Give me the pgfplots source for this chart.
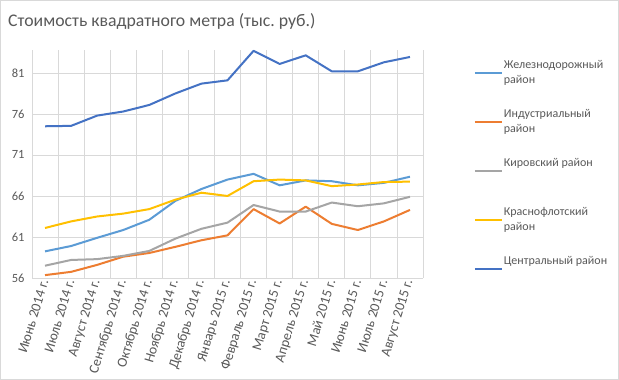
\documentclass[border=0pt]{standalone}
\usepackage{pgfplots}
\pgfplotsset{compat=1.18}
\usepackage{fontspec}
\setmainfont{Carlito}
\definecolor{txt}{HTML}{595959}
\definecolor{grd}{HTML}{D9D9D9}
\definecolor{sA}{HTML}{5B9BD5}
\definecolor{sB}{HTML}{ED7D31}
\definecolor{sC}{HTML}{A5A5A5}
\definecolor{sD}{HTML}{FFC000}
\definecolor{sE}{HTML}{4472C4}
\begin{document}
\begin{tikzpicture}[x=1pt,y=1pt]
\path[use as bounding box] (0,0) rectangle (619,380);
\draw[grd, fill=white, line width=1pt] (0.5,0.5) rectangle (618.5,379.5);
\node[anchor=base west, text=txt, font=\fontsize{17.75}{21}\selectfont, inner sep=0pt] at (8,353) {Стоимость квадратного метра (тыс.~руб.)};
\begin{axis}[
  at={(32pt,102pt)}, anchor=south west,
  scale only axis, width=391pt, height=228pt,
  xmin=-0.5, xmax=14.5, ymin=56, ymax=83.8,
  clip=false,
  axis line style={draw=none},
  major tick length=0pt, minor tick length=0pt,
  ytick={56,61,66,71,76,81},
  xtick={0,...,14},
  minor xtick={-0.5,0.5,...,14.5},
  xminorgrids, ymajorgrids,
  grid style={grd, line width=0.75pt},
  minor grid style={grd, line width=0.75pt},
  xticklabels={Июнь 2014 г.,Июль 2014 г.,Август 2014 г.,Сентябрь 2014 г.,Октябрь 2014 г.,Ноябрь 2014 г.,Декабрь 2014 г.,Январь 2015 г.,Февраль 2015 г.,Март 2015 г.,Апрель 2015 г.,Май 2015 г.,Июнь 2015 г.,Июль 2015 г.,Август 2015 г.},
  /pgf/number format/assume math mode=true,
  yticklabel style={font=\fontsize{12.5}{14}\selectfont, text=txt, xshift=-4pt},
  xticklabel style={font=\fontsize{14}{16}\selectfont, text=txt, rotate=73, anchor=east, inner sep=2pt},
  legend style={at={(1.122,0.969)}, anchor=north west, draw=none, fill=none,
     font=\fontsize{12}{15}\selectfont, text=txt, row sep=22.5pt,
     nodes={align=left, inner sep=1pt}},
  legend cell align=left,
  legend image code/.code={\draw[#1] (0pt,0pt) -- (27pt,0pt);},
  every axis plot/.append style={line width=2pt, line join=round},
]
\addplot[sA] coordinates {(0,59.25)(1,59.9)(2,60.9)(3,61.85)(4,63.1)(5,65.4)(6,66.85)(7,68.0)(8,68.7)(9,67.3)(10,67.9)(11,67.8)(12,67.3)(13,67.6)(14,68.35)};
\addlegendentry{Железнодорожный\\район}
\addplot[sB] coordinates {(0,56.35)(1,56.75)(2,57.6)(3,58.6)(4,59.05)(5,59.8)(6,60.6)(7,61.2)(8,64.4)(9,62.65)(10,64.7)(11,62.6)(12,61.85)(13,62.9)(14,64.3)};
\addlegendentry{Индустриальный\\район}
\addplot[sC] coordinates {(0,57.5)(1,58.2)(2,58.3)(3,58.7)(4,59.3)(5,60.8)(6,62.0)(7,62.75)(8,64.9)(9,64.1)(10,64.1)(11,65.2)(12,64.75)(13,65.1)(14,65.9)};
\addlegendentry{Кировский район\\\mbox{}}
\addplot[sD] coordinates {(0,62.1)(1,62.9)(2,63.5)(3,63.85)(4,64.4)(5,65.55)(6,66.4)(7,66.0)(8,67.8)(9,68.0)(10,67.9)(11,67.2)(12,67.4)(13,67.7)(14,67.75)};
\addlegendentry{Краснофлотский\\район}
\addplot[sE] coordinates {(0,74.5)(1,74.55)(2,75.8)(3,76.3)(4,77.1)(5,78.5)(6,79.7)(7,80.1)(8,83.7)(9,82.1)(10,83.15)(11,81.2)(12,81.2)(13,82.3)(14,82.95)};
\addlegendentry{Центральный район\\\mbox{}}
\end{axis}
\end{tikzpicture}
\end{document}
